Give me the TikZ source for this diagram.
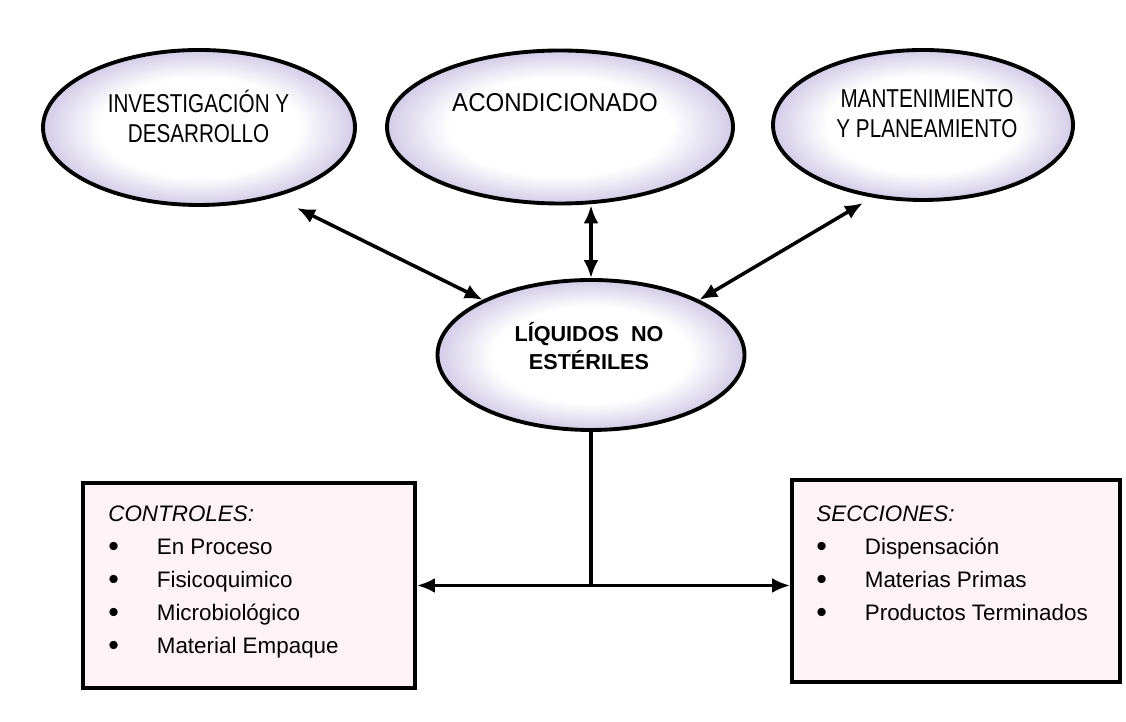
\documentclass[tikz,border=0pt]{standalone}
\usepackage{fontspec}
\setmainfont{Liberation Sans}
\newfontfamily\narrowfont[FakeStretch=0.8]{Liberation Sans}
\newfontfamily\midfont[FakeStretch=0.93]{Liberation Sans}
\usetikzlibrary{shapes.geometric,arrows.meta}
\definecolor{lila}{RGB}{200,193,226}
\definecolor{rosa}{RGB}{253,243,246}
\pgfdeclareradialshading{halo}{\pgfpoint{0bp}{0bp}}{color(0bp)=(white); color(16bp)=(white); color(27bp)=(lila); color(50bp)=(lila)}
\tikzset{
  area/.style={ellipse, draw=black, line width=2.2pt, inner sep=0pt, shading=halo},
  caja/.style={rectangle, draw=black, line width=2.2pt, fill=rosa, inner sep=0pt},
  flecha/.style={line width=2pt, {Latex[length=0.36cm,width=0.3cm]}-{Latex[length=0.36cm,width=0.3cm]}},
  titulo/.style={align=center, font=\narrowfont\fontsize{14.7}{17}\selectfont},
  lista/.style={align=left, anchor=base west, inner sep=0pt, font=\fontsize{12.75}{18.8}\selectfont}
}
\newcommand{\itm}[1]{\makebox[0.97cm][l]{\raisebox{-0.15ex}{\scalebox{1.35}{\textbullet}}}#1}
\begin{document}
\begin{tikzpicture}
    \useasboundingbox (0,0) rectangle (22.52,14.44);
    \node[area, minimum width=6.24cm, minimum height=3.1cm] (ID) at (3.98,11.89) {};
    \node[area, minimum width=6.92cm, minimum height=3.06cm] (AC) at (11.20,11.90) {};
    \node[area, minimum width=6.0cm, minimum height=3.0cm] (MP) at (18.46,11.94) {};
    \node[area, minimum width=6.14cm, minimum height=3.0cm] (LNE) at (11.82,7.34) {};
    \node[caja, minimum width=6.64cm, minimum height=4.1cm] (CT) at (4.98,2.73) {};
    \node[caja, minimum width=6.56cm, minimum height=4.04cm] (SC) at (19.12,2.82) {};

    \node[titulo] (IDt) at (3.97,12.11) {INVESTIGACIÓN Y\\DESARROLLO};
    \node[titulo, font=\midfont\fontsize{14.7}{17}\selectfont] (ACt) at (11.10,12.38) {ACONDICIONADO};
    \node[titulo] (MPt) at (18.54,12.17) {MANTENIMIENTO\\Y PLANEAMIENTO};
    \node[align=center, font=\bfseries\fontsize{12.3}{15.9}\selectfont] (LNEt) at (11.78,7.51) {LÍQUIDOS\ \ NO\\ESTÉRILES};
    \node[lista] (CTt) at (2.16,1.36) {\textit{CONTROLES:}\\\itm{En Proceso}\\\itm{Fisicoquimico}\\\itm{Microbiológico}\\\itm{Material Empaque}};
    \node[lista] (SCt) at (16.32,2.02) {\textit{SECCIONES:}\\\itm{Dispensación}\\\itm{Materias Primas}\\\itm{Productos Terminados}};

    \coordinate (IDtip) at (5.94,10.28);
    \coordinate (MPtip) at (17.26,10.38);
    \draw [flecha] (LNE.153) -- (IDtip);
    \draw [flecha] (LNE.north) -- (LNE.north |- AC.south);
    \draw [flecha] (LNE.27) -- (MPtip);
    \draw [line width=2pt] (LNE.south) -- (LNE.south |- CT.east);
    \draw [flecha] (CT.east) -- (CT.east -| SC.west);
\end{tikzpicture}
\end{document}
